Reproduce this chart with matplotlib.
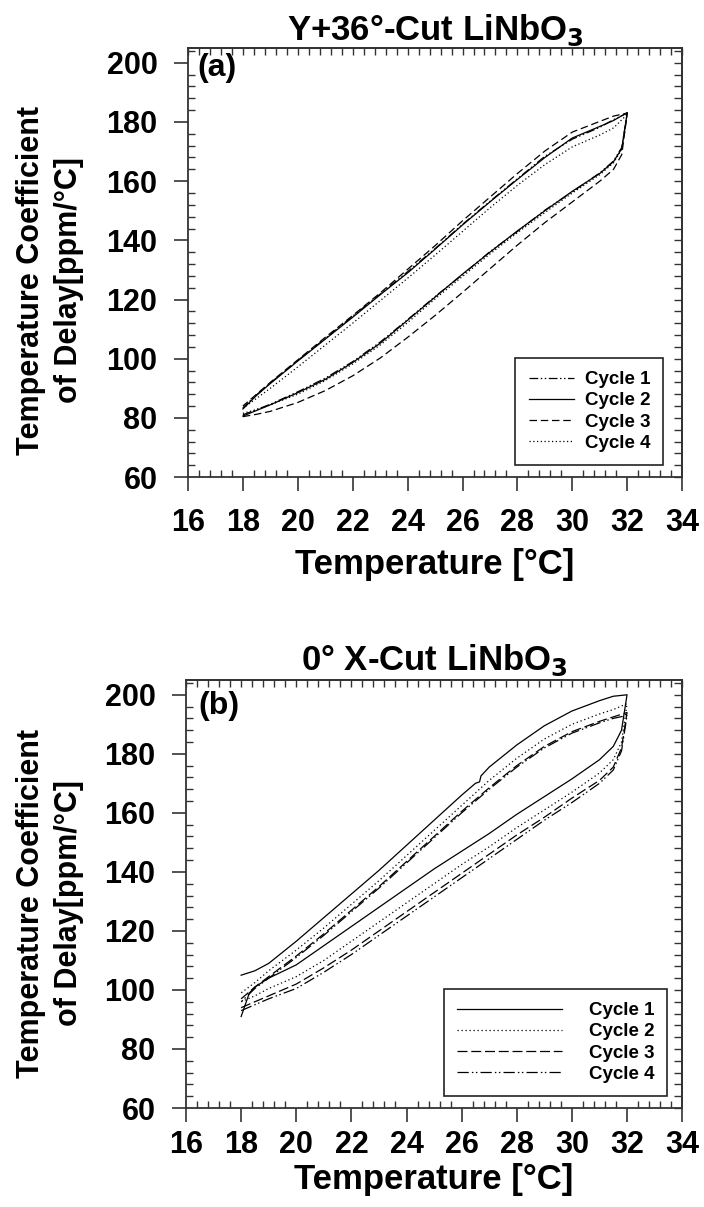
import matplotlib
matplotlib.use("Agg")
import matplotlib.pyplot as plt
from matplotlib.ticker import MultipleLocator

plt.rcParams['font.family'] = ['Liberation Sans', 'DejaVu Sans']
plt.rcParams['font.weight'] = 'bold'
plt.rcParams['mathtext.default'] = 'bf'

# ---------------- Panel (a): Y+36°-Cut LiNbO3 ----------------
a_T = [18, 18.5, 19, 20, 21, 22, 23, 24, 25, 26, 27, 28, 29, 30, 31, 31.5, 31.8, 32,
       31.5, 31, 30, 29, 28, 27, 26, 25, 24, 23, 22, 21, 20, 19, 18.5, 18]
a_cycle1 = [81, 82.8, 84.6, 88.8, 93.4, 99, 105.6, 113.2, 121, 128.4, 136.2, 143, 150.2, 156.4, 162.8, 166.8, 171.4, 183,
            180.8, 178.2, 174.2, 168.4, 160.8, 153.2, 145.4, 137.2, 129.4, 121.8, 114.4, 106.8, 99.4, 91.8, 87.8, 83.4]
a_cycle2 = [80.6, 82.5, 84.4, 88.5, 93, 98.7, 105.2, 113, 120.8, 128.6, 136, 143.2, 150, 156.6, 162.6, 166.6, 171, 183.2,
            180.5, 178.5, 174.6, 168, 160.6, 153, 145.2, 137, 129, 121.6, 114, 106.6, 99.2, 91.6, 87.6, 83]
a_cycle3 = [80.4, 81.2, 82.2, 85.2, 89.2, 94.2, 100.2, 107.2, 114.6, 122.4, 130.4, 138.4, 146, 153, 160, 164, 169, 183,
            182, 180.2, 176.6, 170.2, 162.6, 154.6, 146.6, 138.2, 130.2, 122.2, 114.6, 107.2, 99.6, 92, 88, 84]
a_cycle4 = [81.5, 82.8, 84.4, 88, 92.6, 98.2, 104.6, 112.2, 120.2, 127.8, 135.4, 142.6, 149.4, 156, 162.2, 166.2, 170.8, 182.6,
            178, 175.6, 171.6, 165.6, 158.6, 151, 143, 135, 127.2, 119.6, 112, 104.6, 97.2, 90, 86.6, 83.2]

# ---------------- Panel (b): 0° X-Cut LiNbO3 ----------------
b_T1 = [18, 18.3, 18.5, 19, 20, 21, 22, 23, 24, 25, 26, 27, 28, 29, 30, 31, 31.5, 31.8, 32,
        31.5, 31, 30, 29, 28, 27, 26.7, 26.65, 26.5, 26, 25, 24, 23, 22, 21, 20, 19, 18.5, 18]
b_cycle1 = [91, 99, 101, 104, 108.5, 115, 121.5, 128, 134.5, 141, 147, 153, 159.5, 165.5, 171.5, 178, 182.5, 188, 200,
            199.5, 198, 194.5, 189.5, 183, 175.5, 172.5, 170.5, 170, 166, 157.5, 149, 140.5, 132.5, 124.5, 116.5, 109, 106.5, 105]
b_T = [18, 18.5, 19, 20, 21, 22, 23, 24, 25, 26, 27, 28, 29, 30, 31, 31.5, 31.8, 32,
       31.5, 31, 30, 29, 28, 27, 26, 25, 24, 23, 22, 21, 20, 19, 18.5, 18]
b_cycle2 = [96, 98, 100.5, 104.5, 110, 116.5, 123, 129.5, 136, 142.5, 148.5, 155, 161, 167, 173.5, 178, 184, 197,
            195, 193.5, 190, 185, 178.5, 171, 162.5, 154, 145.5, 137, 129, 121, 113.5, 106.5, 102.5, 99]
b_cycle3 = [94, 96, 98, 102, 107.5, 113.5, 120, 126.5, 133, 139.5, 146, 152.5, 158.5, 165, 171, 175.5, 182, 194,
            192.5, 191, 187.5, 182.5, 176, 168.5, 160.5, 152, 143.5, 135, 127, 119, 111.5, 104.5, 101, 97]
b_cycle4 = [93, 95, 97, 100.5, 106, 112, 118.5, 125, 131.5, 138, 144.5, 151, 157.5, 163.5, 170, 174.5, 181, 193,
            192, 190.5, 187, 182, 175.5, 168, 160, 151.5, 143, 134.5, 126.5, 118.5, 111, 104, 100.5, 96]

labels = ['Cycle 1', 'Cycle 2', 'Cycle 3', 'Cycle 4']

DASHDOTDOT_A = (0, (7, 2, 1.2, 2, 1.2, 2))
DASHDOTDOT_B = (0, (9, 2.5, 1.2, 2, 1.2, 2.5))

fig = plt.figure(figsize=(7.04, 12.07), dpi=100)
ax_a = fig.add_axes([0.267, 0.6048, 0.702, 0.3554])
ax_b = fig.add_axes([0.2642, 0.0820, 0.7048, 0.3546])

lw = 0.9
ax_a.plot(a_T, a_cycle1, color='black', lw=lw, ls=DASHDOTDOT_A, label=labels[0])
ax_a.plot(a_T, a_cycle2, color='black', lw=lw, ls='-', label=labels[1])
ax_a.plot(a_T, a_cycle3, color='black', lw=lw, ls=(0, (6, 3)), label=labels[2])
ax_a.plot(a_T, a_cycle4, color='black', lw=lw, ls=(0, (1, 2)), label=labels[3])

ax_b.plot(b_T1, b_cycle1, color='black', lw=lw, ls='-', label=labels[0])
ax_b.plot(b_T, b_cycle2, color='black', lw=lw, ls=(0, (1, 2.2)), label=labels[1])
ax_b.plot(b_T, b_cycle3, color='black', lw=lw, ls=(0, (8, 3)), label=labels[2])
ax_b.plot(b_T, b_cycle4, color='black', lw=lw, ls=DASHDOTDOT_B, label=labels[3])

xticks = [16, 18, 20, 22, 24, 26, 28, 30, 32, 34]
yticks = [60, 80, 100, 120, 140, 160, 180, 200]

def style(ax, xpad, title, tag, tagpos, titley, ylab_xy, xlab_y):
    ax.set_xlim(16, 34)
    ax.set_ylim(60, 205)
    ax.set_xticks(xticks)
    ax.set_yticks(yticks)
    ax.xaxis.set_minor_locator(MultipleLocator(0.4))
    ax.yaxis.set_minor_locator(MultipleLocator(4))
    for s in ax.spines.values():
        s.set_color('#333333')
        s.set_linewidth(1.3)
    ax.tick_params(which='major', direction='out', length=10, width=1.2, color='#333333',
                   labelsize=22)
    ax.tick_params(axis='y', which='major', pad=12)
    ax.tick_params(axis='x', which='major', pad=xpad)
    ax.tick_params(which='minor', direction='in', length=5, width=1.0, color='#333333')
    for lab in ax.get_xticklabels() + ax.get_yticklabels():
        lab.set_fontweight('bold')
    secx = ax.secondary_xaxis('top')
    secx.set_xticks(xticks)
    secx.xaxis.set_minor_locator(MultipleLocator(0.4))
    secx.tick_params(which='both', direction='in', length=5, width=1.0, color='#333333', labeltop=False)
    secy = ax.secondary_yaxis('right')
    secy.set_yticks(yticks)
    secy.yaxis.set_minor_locator(MultipleLocator(4))
    secy.tick_params(which='both', direction='in', length=6, width=1.0, color='#333333', labelright=False)
    for s in list(secx.spines.values()) + list(secy.spines.values()):
        s.set_color('#333333')
        s.set_linewidth(1.3)
    ax.set_xlabel('Temperature [°C]', fontsize=25, fontweight='bold')
    ax.xaxis.label.set_verticalalignment('center')
    ax.xaxis.set_label_coords(0.5, xlab_y)
    ax.set_ylabel('Temperature Coefficient\nof Delay[ppm/°C]', fontsize=22, fontweight='bold',
                  linespacing=1.35)
    ax.yaxis.label.set_verticalalignment('center')
    ax.yaxis.set_label_coords(*ylab_xy)
    ax.text(0.5, titley, title, transform=ax.transAxes, ha='center', va='center',
            fontsize=25, fontweight='bold')
    ax.text(tagpos[0], tagpos[1], tag, transform=ax.transAxes, ha='center', va='center',
            fontsize=23, fontweight='bold')

style(ax_a, 12, 'Y+36°-Cut LiNbO$_\\mathbf{3}$', '(a)', (0.059, 0.953), 1.042, (-0.279, 0.459), -0.205)
style(ax_b, 6, '0° X-Cut LiNbO$_\\mathbf{3}$', '(b)', (0.067, 0.939), 1.047, (-0.274, 0.479), -0.168)

leg_a = ax_a.legend(loc='lower right', bbox_to_anchor=(0.962, 0.028),
                    prop={'weight': 'bold', 'size': 13.5}, handlelength=2.4, handletextpad=0.6,
                    labelspacing=0.22, borderpad=0.7, fancybox=False, framealpha=1,
                    edgecolor='#222222', borderaxespad=0)
leg_a.get_frame().set_linewidth(1.2)
leg_b = ax_b.legend(loc='lower right', bbox_to_anchor=(0.970, 0.028),
                    prop={'weight': 'bold', 'size': 13.5}, handlelength=5.6, handletextpad=1.4,
                    labelspacing=0.22, borderpad=0.7, fancybox=False, framealpha=1,
                    edgecolor='#222222', borderaxespad=0)
leg_b.get_frame().set_linewidth(1.2)

fig.savefig('out.png', dpi=100)
